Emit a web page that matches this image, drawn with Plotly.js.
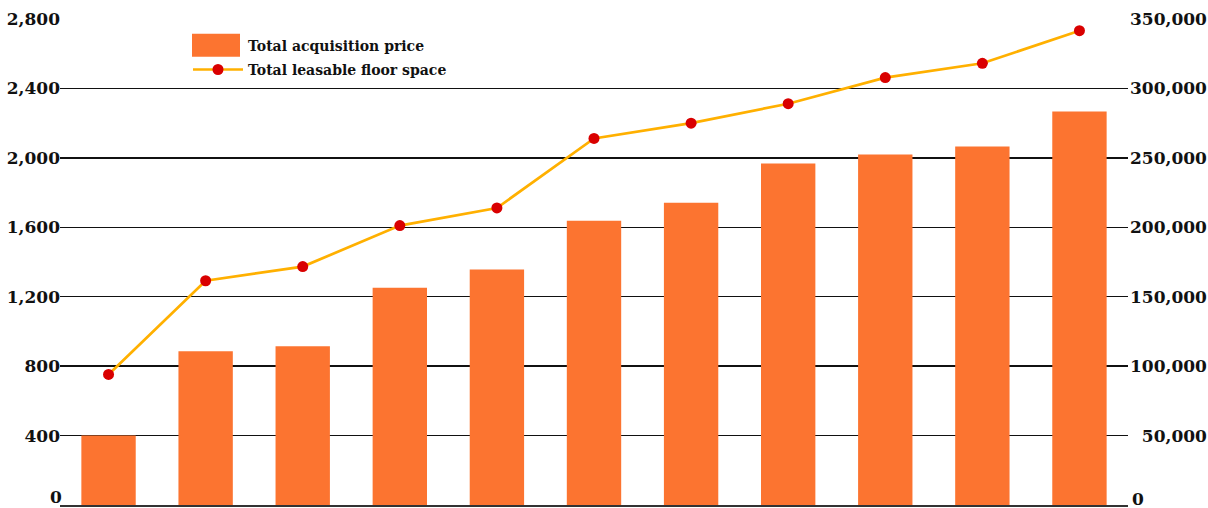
<!DOCTYPE html>
<html>
<head>
<meta charset="utf-8">
<script src="https://cdn.plot.ly/plotly-3.0.1.min.js"></script>
<style>
  html, body { margin: 0; padding: 0; background: #ffffff; }
  #chart { width: 1208px; height: 508px; }
</style>
</head>
<body>
<div id="chart"></div>
<script>
// ---- Data ----
const periods = ["P1", "P2", "P3", "P4", "P5", "P6", "P7", "P8", "P9", "P10", "P11"];
const acquisitionPrice = [400, 886, 915, 1252, 1357, 1638, 1742, 1968, 2020, 2066, 2267];
const leasableFloorSpace = [94000, 161500, 171700, 201200, 213900, 264000, 275000, 289000, 307800, 318100, 341600];
const leftTicks = [400, 800, 1200, 1600, 2000, 2400, 2800];
const rightTicks = [50000, 100000, 150000, 200000, 250000, 300000, 350000];
const rightTickText = ["\u200750,000", "100,000", "150,000", "200,000", "250,000", "300,000", "350,000"];
const zeroLabel = "0";
const seriesNames = ["Total acquisition price", "Total leasable floor space"];

// ---- Layout geometry ----
const W = 1208, H = 508;
const plotL = 60, plotR = 1128, plotT = 19.3, plotB = 505;
const px2x = p => (p - plotL) / (plotR - plotL);
const px2y = p => (plotB - p) / (plotB - plotT);

const fontFam = "'DejaVu Serif', 'Liberation Serif', serif";
const tickFont = { family: fontFam, size: 17, color: "#111111", weight: "bold" };

const traces = [
  {
    type: "bar",
    name: seriesNames[0],
    legendgroup: "price",
    x: periods,
    y: acquisitionPrice,
    marker: { color: "#FC7430", line: { width: 0 } },
    yaxis: "y",
    hoverinfo: "x+y"
  },
  {
    type: "scatter",
    mode: "lines+markers",
    name: seriesNames[1],
    legendgroup: "space",
    x: periods,
    y: leasableFloorSpace,
    yaxis: "y2",
    line: { color: "#FFB000", width: 2.7 },
    marker: { color: "#D90000", size: 11 },
    hoverinfo: "x+y"
  }
];

const layout = {
  width: W,
  height: H,
  margin: { l: plotL, r: W - plotR, t: plotT, b: H - plotB, pad: 0, autoexpand: false },
  paper_bgcolor: "#ffffff",
  plot_bgcolor: "#ffffff",
  font: { family: fontFam, size: 17, color: "#111111", weight: "bold" },
  bargap: 0.44,
  showlegend: true,
  legend: {
    x: px2x(188),
    xanchor: "left",
    y: px2y(30),
    yanchor: "top",
    bgcolor: "rgba(0,0,0,0)",
    borderwidth: 0,
    itemwidth: 50,
    traceorder: "grouped",
    tracegroupgap: 3,
    font: { family: fontFam, size: 14, color: "#111111", weight: "bold" },
    itemclick: false,
    itemdoubleclick: false
  },
  xaxis: {
    type: "category",
    range: [-0.5, periods.length - 0.5],
    autorange: false,
    showticklabels: false,
    showgrid: false,
    zeroline: false,
    showline: true,
    linecolor: "#333333",
    linewidth: 2,
    ticks: "",
    fixedrange: true
  },
  yaxis: {
    range: [0, 2800],
    autorange: false,
    tickvals: leftTicks,
    tickformat: ",d",
    showgrid: true,
    gridcolor: "#111111",
    gridwidth: 1.3,
    zeroline: false,
    showline: false,
    ticks: "",
    ticklabelstandoff: -1,
    tickfont: tickFont,
    fixedrange: true
  },
  yaxis2: {
    overlaying: "y",
    side: "right",
    range: [0, 350000],
    autorange: false,
    tickvals: rightTicks,
    ticktext: rightTickText,
    showgrid: false,
    zeroline: false,
    showline: false,
    ticks: "",
    ticklabelstandoff: 1,
    tickfont: tickFont,
    fixedrange: true
  },
  annotations: [
    {
      text: zeroLabel, showarrow: false,
      xref: "paper", x: 0, xanchor: "right", xshift: 3,
      yref: "y", y: 0, yanchor: "bottom", yshift: -3,
      font: tickFont, borderpad: 0
    },
    {
      text: zeroLabel, showarrow: false,
      xref: "paper", x: 1, xanchor: "left", xshift: 3,
      yref: "y", y: 0, yanchor: "bottom", yshift: -5,
      font: tickFont, borderpad: 0
    }
  ],
  shapes: [
    {
      type: "rect",
      xref: "paper", yref: "paper",
      x0: px2x(192), x1: px2x(240),
      y0: px2y(57), y1: px2y(34),
      fillcolor: "#FC7430",
      line: { width: 0 },
      layer: "above"
    }
  ]
};

Plotly.newPlot("chart", traces, layout, { displayModeBar: false, staticPlot: true });
</script>
</body>
</html>
